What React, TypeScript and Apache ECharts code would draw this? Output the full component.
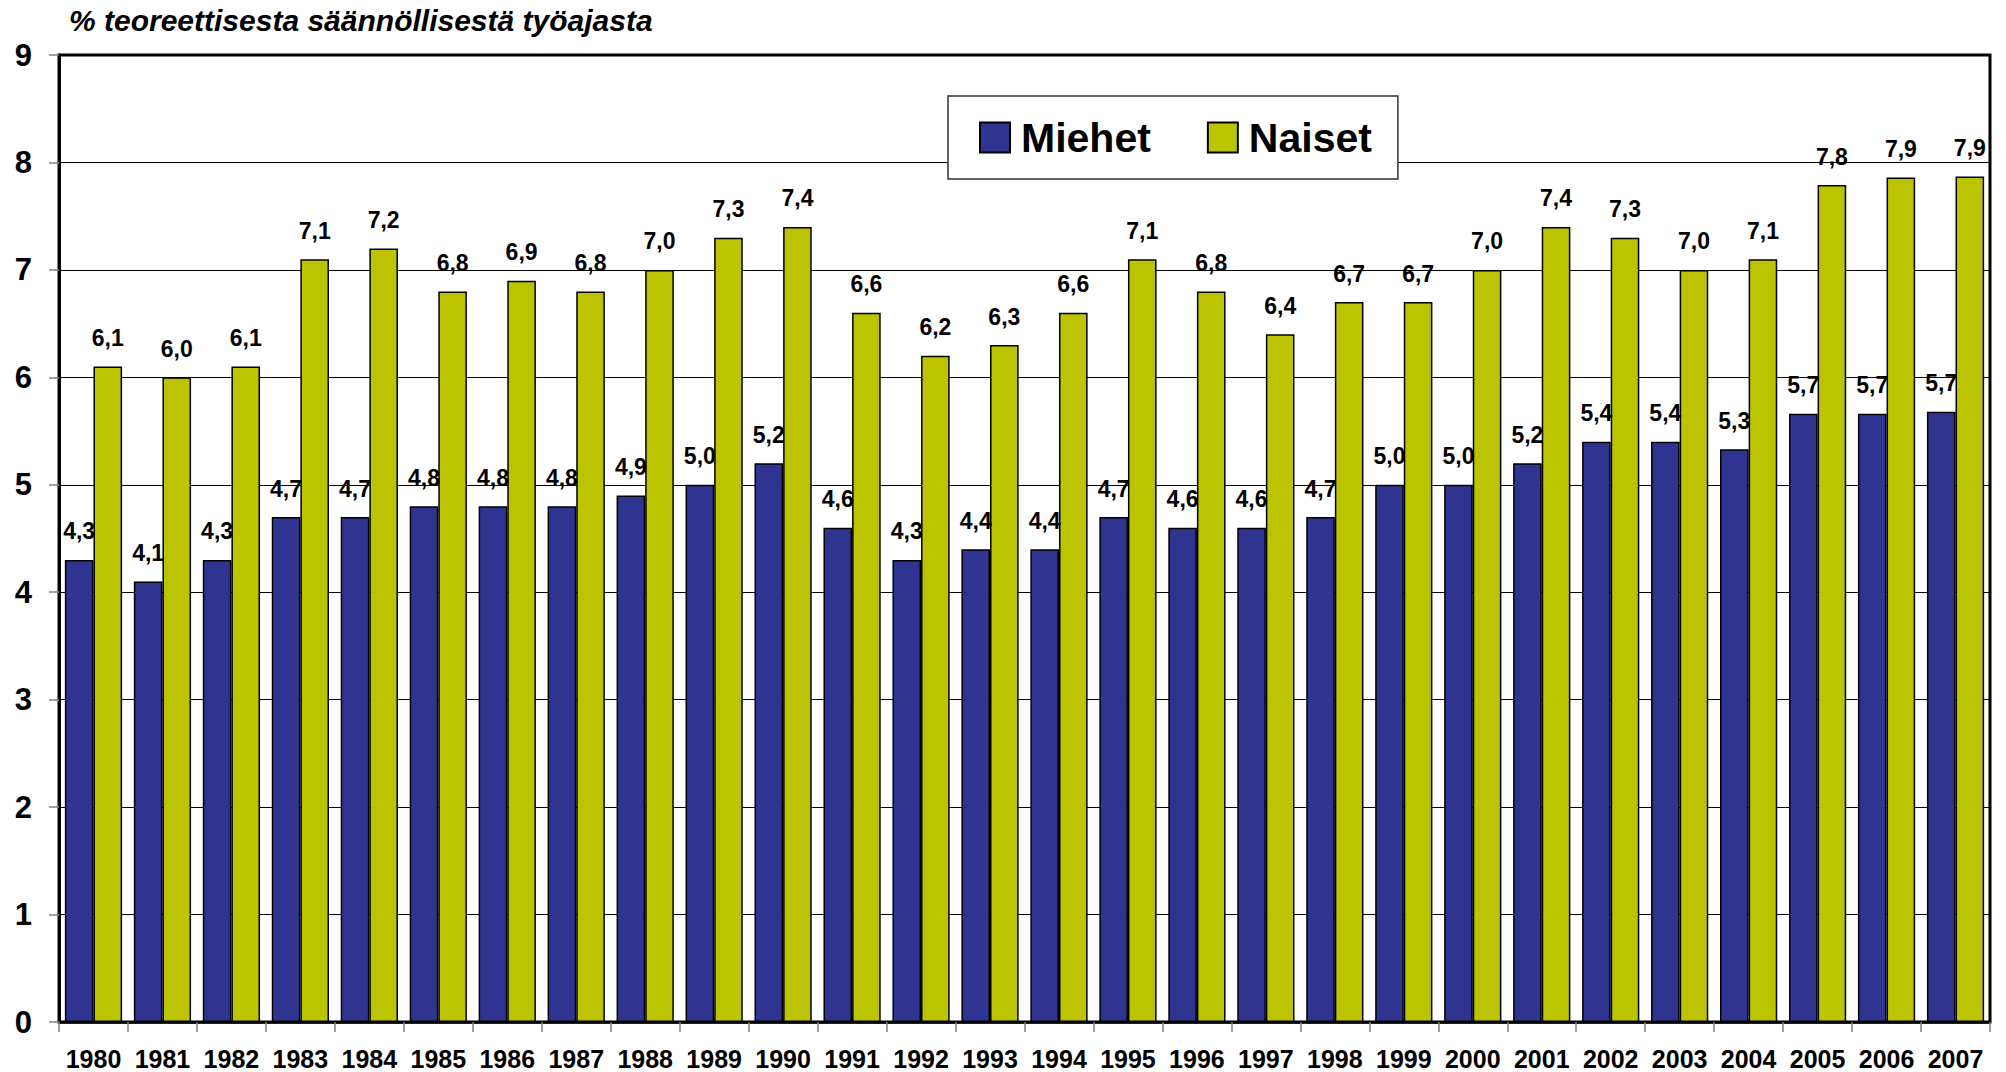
import React, { useEffect, useRef } from "react";
import * as echarts from "echarts";

const years = [
  "1980", "1981", "1982", "1983", "1984", "1985", "1986", "1987", "1988", "1989",
  "1990", "1991", "1992", "1993", "1994", "1995", "1996", "1997", "1998", "1999",
  "2000", "2001", "2002", "2003", "2004", "2005", "2006", "2007",
];

const miehet = [
  4.3, 4.1, 4.3, 4.7, 4.7, 4.8, 4.8, 4.8, 4.9, 5.0,
  5.2, 4.6, 4.3, 4.4, 4.4, 4.7, 4.6, 4.6, 4.7, 5.0,
  5.0, 5.2, 5.4, 5.4, 5.33, 5.66, 5.66, 5.68,
];

const naiset = [
  6.1, 6.0, 6.1, 7.1, 7.2, 6.8, 6.9, 6.8, 7.0, 7.3,
  7.4, 6.6, 6.2, 6.3, 6.6, 7.1, 6.8, 6.4, 6.7, 6.7,
  7.0, 7.4, 7.3, 7.0, 7.1, 7.79, 7.86, 7.87,
];

const yTitle = "% teoreettisesta säännöllisestä työajasta";
const seriesNames = ["Miehet", "Naiset"];

const FONT = '"Liberation Sans", Arial, Helvetica, sans-serif';

export default function App() {
  const ref = useRef<HTMLDivElement>(null);

  useEffect(() => {
    if (!ref.current) return;
    const chart = echarts.init(ref.current, null, { renderer: "svg" });
    const fmt = (p: any) => Number(p.value).toFixed(1).replace(".", ",");
    const labelCfg = {
      show: true,
      position: "top",
      distance: 17,
      formatter: fmt,
      fontSize: 23,
      fontWeight: "bold",
      color: "#000",
      fontFamily: FONT,
    };
    chart.setOption({
      animation: false,
      backgroundColor: "#fff",
      title: {
        text: yTitle,
        left: 69,
        top: 5,
        padding: 0,
        textStyle: {
          fontFamily: FONT,
          fontStyle: "italic",
          fontWeight: "bold",
          fontSize: 30,
          color: "#000",
        },
      },
      legend: {
        data: seriesNames,
        left: 948,
        top: 96,
        orient: "horizontal",
        backgroundColor: "#fff",
        borderColor: "#333",
        borderWidth: 1.5,
        padding: [21, 26, 21, 31],
        itemWidth: 30,
        itemHeight: 30,
        itemGap: 56,
        icon: "rect",
        textStyle: {
          fontFamily: FONT,
          fontSize: 41,
          fontWeight: "bold",
          color: "#000",
          padding: [0, 0, 0, 6],
        },
      },
      grid: {
        left: 59,
        right: 16,
        top: 55,
        bottom: 50,
        show: true,
        borderColor: "#000",
        borderWidth: 3,
        backgroundColor: "transparent",
      },
      xAxis: {
        type: "category",
        data: years,
        boundaryGap: true,
        axisLine: { show: true, lineStyle: { color: "#000", width: 2.5 } },
        axisTick: { show: true, length: 10, lineStyle: { color: "#808080", width: 1.5 } },
        axisLabel: {
          interval: 0,
          margin: 24,
          fontSize: 25,
          fontWeight: "bold",
          color: "#000",
          fontFamily: FONT,
        },
        splitLine: { show: false },
      },
      yAxis: {
        type: "value",
        min: 0,
        max: 9,
        interval: 1,
        axisLine: { show: true, lineStyle: { color: "#000", width: 3 } },
        axisTick: { show: true, length: 10, lineStyle: { color: "#808080", width: 1.5 } },
        axisLabel: {
          margin: 27,
          fontSize: 31,
          fontWeight: "bold",
          color: "#000",
          fontFamily: FONT,
        },
        splitLine: { show: true, lineStyle: { color: "#000", width: 1.2 } },
      },
      series: [
        {
          name: seriesNames[0],
          type: "bar",
          data: miehet,
          barGap: "0%",
          barCategoryGap: "17%",
          itemStyle: { color: "#2f3490", borderColor: "#000", borderWidth: 1.5 },
          label: labelCfg,
        },
        {
          name: seriesNames[1],
          type: "bar",
          data: naiset,
          barGap: "0%",
          barCategoryGap: "17%",
          itemStyle: { color: "#bcc402", borderColor: "#000", borderWidth: 1.5 },
          label: labelCfg,
        },
      ],
    });
    return () => chart.dispose();
  }, []);

  return (
    <div
      ref={ref}
      style={{ position: "absolute", left: 0, top: 0, width: 2006, height: 1072 }}
    />
  );
}
